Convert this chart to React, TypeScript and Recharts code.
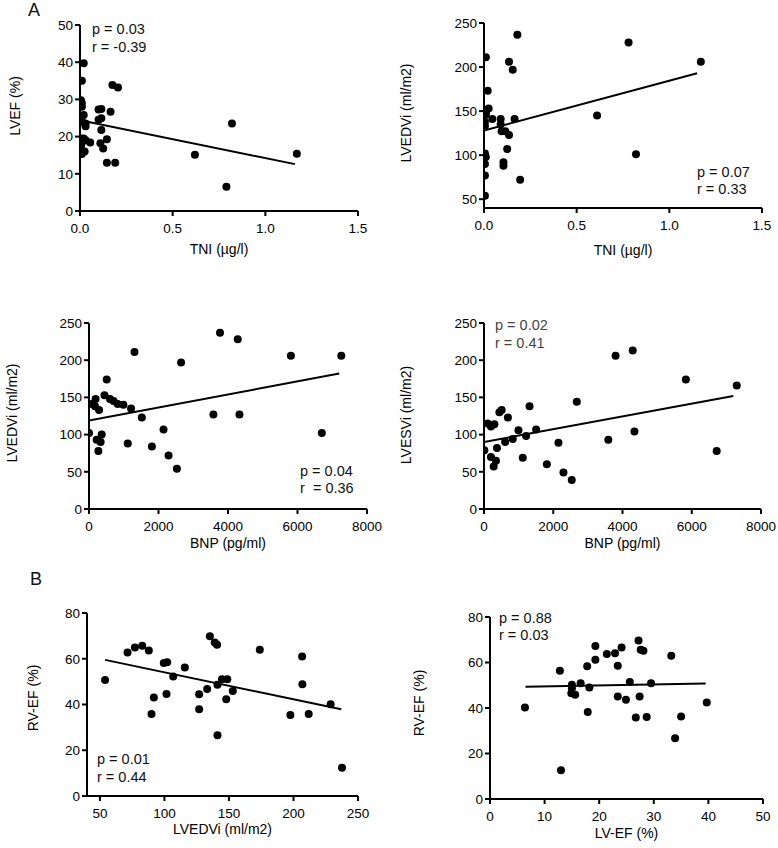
import React from "react";
import { ScatterChart, Scatter, XAxis, YAxis } from "recharts";

const FONT = '"Liberation Sans", Arial, Helvetica, sans-serif';

type Pt = [number, number];

// A: TNI (µg/l) vs LVEF (%)
const tniVsLvef: Pt[] = [
  [0.02, 39.7], [0.01, 35], [0.005, 29.8], [0.01, 29], [0.01, 28], [0.02, 25.8],
  [0.005, 24.5], [0.03, 23.5], [0.03, 22.8], [0.01, 24], [0.005, 19.5], [0.02, 19.5],
  [0.03, 19], [0.055, 18.4], [0.01, 18.4], [0.005, 17.5], [0.025, 16], [0.01, 15.3],
  [0.1, 27.3], [0.115, 27.4], [0.165, 26.7], [0.115, 24.9], [0.1, 24.5], [0.115, 21.8],
  [0.11, 18.2], [0.125, 16.8], [0.145, 19.3], [0.145, 13], [0.19, 13], [0.175, 33.9],
  [0.205, 33.2], [0.62, 15.1], [0.82, 23.5], [0.79, 6.5], [1.17, 15.4],
];
const tniVsLvefFit: Pt[] = [[0, 24.4], [1.16, 12.6]];

// A: TNI (µg/l) vs LVEDVi (ml/m2)
const tniVsLvedvi: Pt[] = [
  [0.18, 236.7], [0.01, 211], [0.135, 206], [0.155, 197], [0.02, 173], [0.025, 153],
  [0.01, 149], [0.01, 146], [0.045, 141], [0.09, 141], [0.165, 141], [0.005, 138],
  [0.005, 133], [0.09, 135], [0.095, 127], [0.115, 127], [0.135, 123], [0.125, 107],
  [0.005, 102], [0.01, 98], [0.005, 90], [0.105, 92], [0.105, 88], [0.005, 77],
  [0.195, 72], [0.005, 54], [0.61, 145], [0.78, 228], [0.82, 101], [1.17, 206],
];
const tniVsLvediFit: Pt[] = [[0, 128], [1.15, 193]];

// A: BNP (pg/ml) vs LVEDVi (ml/m2)
const bnpVsLvedvi: Pt[] = [
  [0, 102], [80, 141], [190, 148], [175, 138], [290, 133], [510, 174], [445, 153],
  [605, 148], [705, 145], [825, 141], [990, 140], [1210, 135], [1310, 211], [2650, 197],
  [1520, 123], [220, 93], [365, 100], [335, 90], [270, 78], [1115, 88], [1810, 84],
  [2145, 107], [2290, 72], [2530, 54], [3770, 237], [4280, 228], [5810, 206], [7260, 206],
  [3580, 127], [4330, 127], [6700, 102],
];
const bnpVsLvediFit: Pt[] = [[0, 119], [7200, 182]];

// A: BNP (pg/ml) vs LVESVi (ml/m2)
const bnpVsLvesvi: Pt[] = [
  [10, 79], [105, 115], [200, 111], [300, 114], [445, 130], [510, 133], [690, 123],
  [1315, 138], [2680, 144], [995, 106], [1505, 107], [1215, 98], [830, 94], [610, 90],
  [2150, 89], [375, 82], [200, 70], [345, 65], [280, 57], [1120, 69], [1815, 60],
  [2295, 49], [2535, 39], [3800, 206], [4295, 213], [5830, 174], [7300, 166], [3590, 93],
  [4345, 104], [6720, 78],
];
const bnpVsLvesviFit: Pt[] = [[0, 90], [7200, 152]];

// B: LVEDVi (ml/m2) vs RV-EF (%)
const lvedviVsRvef: Pt[] = [
  [54, 50.7], [71.4, 62.7], [77.1, 64.9], [82.8, 65.7], [87.9, 63.6], [90, 35.8],
  [91.8, 43.1], [99.5, 58.1], [102.1, 58.5], [101.6, 44.6], [106.8, 52.2], [115.8, 56.2],
  [126.9, 44.5], [126.9, 37.9], [133.1, 46.8], [135.2, 69.8], [139, 67.1], [140.8, 66.1],
  [141.1, 48.6], [141.1, 26.6], [144.6, 51], [148.7, 51], [147.9, 42.3], [153, 45.9],
  [173.9, 63.9], [197.6, 35.4], [206.7, 61], [206.9, 48.8], [211.8, 35.8], [228.8, 40.1],
  [237.6, 12.3],
];
const lvedviVsRvefFit: Pt[] = [[54, 59.5], [237, 37.9]];

// B: LV-EF (%) vs RV-EF (%)
const lvefVsRvef: Pt[] = [
  [6.4, 40.2], [12.8, 56.4], [13, 12.6], [15, 50.2], [15, 48.7], [14.9, 46.5],
  [15.6, 45.8], [16.6, 50.9], [17.8, 58.3], [18.2, 49], [17.9, 38.2], [19.3, 61.2],
  [19.3, 67.3], [21.4, 63.7], [22.9, 64.1], [23.4, 58.6], [23.4, 45.1], [24.1, 66.6],
  [24.9, 43.6], [25.6, 51.4], [26.7, 35.8], [27.2, 69.7], [27.6, 65.6], [28.1, 65.2],
  [27.4, 45.1], [28.7, 36], [29.5, 50.9], [33.2, 63], [33.9, 26.7], [35, 36.3],
  [39.7, 42.4],
];
const lvefVsRvefFit: Pt[] = [[6.5, 49.3], [39.5, 50.8]];

// tick labels
const tniTicks = [0, 0.5, 1.0, 1.5];
const bnpTicks = [0, 2000, 4000, 6000, 8000];
const lvefTicks = [0, 10, 20, 30, 40, 50];
const volTicks = [50, 100, 150, 200, 250];
const volTicksFromZero = [0, 50, 100, 150, 200, 250];
const rvefTicks = [0, 20, 40, 60, 80];
const lvedviTicks = [50, 100, 150, 200, 250];
const lvEfTicks = [0, 10, 20, 30, 40, 50];

const X_H = 45;
const toObj = (arr: Pt[]) => arr.map(([x, y]) => ({ x, y }));

const Dot = (props: any) => {
  if (props.cx == null || props.cy == null) return <g />;
  return <circle cx={props.cx} cy={props.cy} r={4} fill="#000" />;
};
const NoDot = () => <g />;

type PanelProps = {
  box: { left: number; top: number; width: number; height: number };
  plot: { x0: number; x1: number; y0: number; y1: number };
  points: Pt[];
  fit: Pt[];
  xDomain: [number, number];
  yDomain: [number, number];
  xTicks: number[];
  yTicks: number[];
  xFmt?: (v: number) => string;
  xTitle: string;
  yTitle: string;
  yTitleX: number;
  yTitleY: number;
  xTitleY: number;
};

function Panel(p: PanelProps) {
  const { box, plot } = p;
  const margin = {
    top: plot.y0 - box.top,
    right: box.left + box.width - plot.x1,
    left: 0,
    bottom: box.top + box.height - plot.y1 - X_H,
  };
  const yW = plot.x0 - box.left;
  const tickStyle = { fill: "#000", fontSize: 13.5, fontFamily: FONT };
  const axisStroke = { stroke: "#000", strokeWidth: 2 };
  const ytx = p.yTitleX - box.left;
  const yty = p.yTitleY - box.top;
  return (
    <div style={{ position: "absolute", left: box.left, top: box.top }}>
      <ScatterChart width={box.width} height={box.height} margin={margin}>
        <XAxis
          type="number"
          dataKey="x"
          domain={p.xDomain}
          ticks={p.xTicks}
          interval={0}
          allowDataOverflow
          height={X_H}
          axisLine={axisStroke}
          tickLine={axisStroke}
          tickSize={5}
          tickMargin={7}
          tick={tickStyle}
          tickFormatter={p.xFmt}
          label={() => (
            <text
              x={(plot.x0 + plot.x1) / 2 - box.left}
              y={p.xTitleY - box.top}
              textAnchor="middle"
              fontSize={14}
              fontFamily={FONT}
              fill="#000"
            >
              {p.xTitle}
            </text>
          )}
        />
        <YAxis
          type="number"
          dataKey="y"
          domain={p.yDomain}
          ticks={p.yTicks}
          interval={0}
          allowDataOverflow
          width={yW}
          axisLine={axisStroke}
          tickLine={axisStroke}
          tickSize={5}
          tickMargin={2}
          tick={tickStyle}
          label={() => (
            <text
              x={ytx}
              y={yty}
              transform={`rotate(-90 ${ytx} ${yty})`}
              textAnchor="middle"
              dominantBaseline="central"
              fontSize={14}
              fontFamily={FONT}
              fill="#000"
            >
              {p.yTitle}
            </text>
          )}
        />
        <Scatter data={toObj(p.points)} shape={Dot} isAnimationActive={false} />
        <Scatter
          data={toObj(p.fit)}
          shape={NoDot}
          line={{ stroke: "#000", strokeWidth: 2 }}
          lineType="joint"
          isAnimationActive={false}
        />
      </ScatterChart>
    </div>
  );
}

const oneDecimal = (v: number) => v.toFixed(1);

const notes = [
  { x: 92, y: 34, text: "p = 0.03", fill: "#111" },
  { x: 92, y: 52, text: "r = -0.39", fill: "#111" },
  { x: 697, y: 177, text: "p = 0.07", fill: "#111" },
  { x: 697, y: 194, text: "r = 0.33", fill: "#111" },
  { x: 300, y: 476, text: "p = 0.04", fill: "#111" },
  { x: 300, y: 493, text: "r  = 0.36", fill: "#111" },
  { x: 495, y: 330, text: "p = 0.02", fill: "#444" },
  { x: 495, y: 348, text: "r = 0.41", fill: "#444" },
  { x: 97, y: 764, text: "p = 0.01", fill: "#111" },
  { x: 97, y: 782, text: "r = 0.44", fill: "#111" },
  { x: 499, y: 623, text: "p = 0.88", fill: "#111" },
  { x: 499, y: 640, text: "r = 0.03", fill: "#111" },
];

export default function App() {
  return (
    <div style={{ position: "absolute", left: 0, top: 0, width: 778, height: 848, background: "#fff" }}>
      <Panel
        box={{ left: 0, top: 0, width: 389, height: 280 }}
        plot={{ x0: 80, x1: 358, y0: 25, y1: 211 }}
        points={tniVsLvef}
        fit={tniVsLvefFit}
        xDomain={[0, 1.5]}
        yDomain={[0, 50]}
        xTicks={tniTicks}
        yTicks={lvefTicks}
        xFmt={oneDecimal}
        xTitle="TNI (µg/l)"
        yTitle="LVEF (%)"
        yTitleX={15}
        yTitleY={106}
        xTitleY={254}
      />
      <Panel
        box={{ left: 389, top: 0, width: 389, height: 280 }}
        plot={{ x0: 484, x1: 762, y0: 23, y1: 208 }}
        points={tniVsLvedvi}
        fit={tniVsLvediFit}
        xDomain={[0, 1.5]}
        yDomain={[40, 250]}
        xTicks={tniTicks}
        yTicks={volTicks}
        xFmt={oneDecimal}
        xTitle="TNI (µg/l)"
        yTitle="LVEDVi (ml/m2)"
        yTitleX={406}
        yTitleY={113}
        xTitleY={255}
      />
      <Panel
        box={{ left: 0, top: 280, width: 389, height: 290 }}
        plot={{ x0: 89, x1: 367, y0: 323, y1: 509 }}
        points={bnpVsLvedvi}
        fit={bnpVsLvediFit}
        xDomain={[0, 8000]}
        yDomain={[0, 250]}
        xTicks={bnpTicks}
        yTicks={volTicksFromZero}
        xTitle="BNP (pg/ml)"
        yTitle="LVEDVi (ml/m2)"
        yTitleX={12}
        yTitleY={413}
        xTitleY={548}
      />
      <Panel
        box={{ left: 389, top: 280, width: 389, height: 290 }}
        plot={{ x0: 484, x1: 761, y0: 323, y1: 509 }}
        points={bnpVsLvesvi}
        fit={bnpVsLvesviFit}
        xDomain={[0, 8000]}
        yDomain={[0, 250]}
        xTicks={bnpTicks}
        yTicks={volTicksFromZero}
        xTitle="BNP (pg/ml)"
        yTitle="LVESVi (ml/m2)"
        yTitleX={406}
        yTitleY={415}
        xTitleY={548}
      />
      <Panel
        box={{ left: 0, top: 570, width: 389, height: 278 }}
        plot={{ x0: 87, x1: 358, y0: 613, y1: 796 }}
        points={lvedviVsRvef}
        fit={lvedviVsRvefFit}
        xDomain={[40, 250]}
        yDomain={[0, 80]}
        xTicks={lvedviTicks}
        yTicks={rvefTicks}
        xTitle="LVEDVi (ml/m2)"
        yTitle="RV-EF (%)"
        yTitleX={33}
        yTitleY={698}
        xTitleY={834}
      />
      <Panel
        box={{ left: 389, top: 570, width: 389, height: 278 }}
        plot={{ x0: 490, x1: 763, y0: 617, y1: 799 }}
        points={lvefVsRvef}
        fit={lvefVsRvefFit}
        xDomain={[0, 50]}
        yDomain={[0, 80]}
        xTicks={lvEfTicks}
        yTicks={rvefTicks}
        xTitle="LV-EF (%)"
        yTitle="RV-EF (%)"
        yTitleX={419}
        yTitleY={703}
        xTitleY={838}
      />
      <svg
        width={778}
        height={848}
        style={{ position: "absolute", left: 0, top: 0, pointerEvents: "none" }}
      >
        <text x={28} y={16} fontSize={18} fontFamily={FONT} fill="#111">A</text>
        <text x={30} y={585} fontSize={18} fontFamily={FONT} fill="#111">B</text>
        {notes.map((n, i) => (
          <text
            key={i}
            x={n.x}
            y={n.y}
            fontSize={14.5}
            fontFamily={FONT}
            fill={n.fill}
            style={{ whiteSpace: "pre" }}
          >
            {n.text}
          </text>
        ))}
      </svg>
    </div>
  );
}
